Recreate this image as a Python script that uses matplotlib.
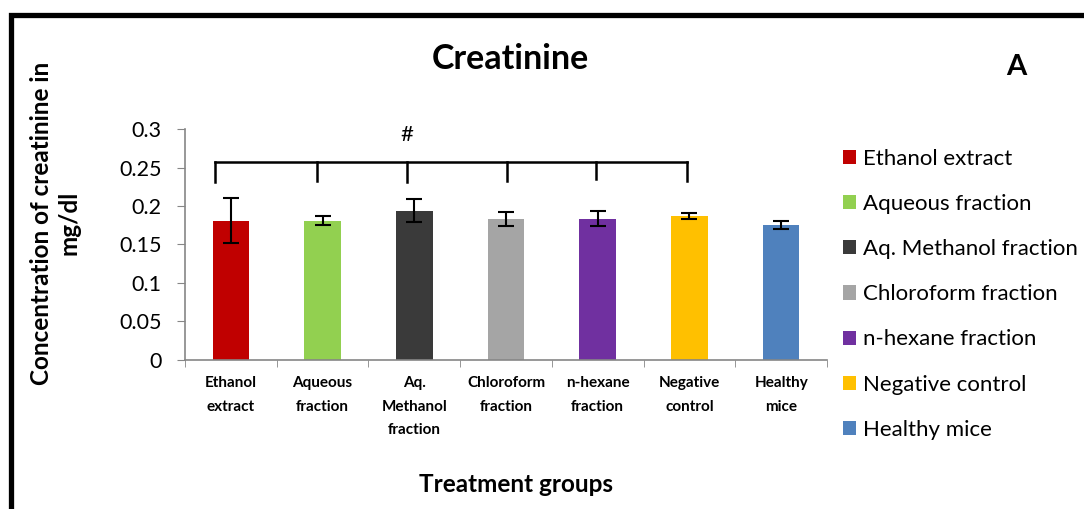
import matplotlib.pyplot as plt
from matplotlib.patches import Rectangle

plt.rcParams['font.family'] = ['Lato', 'DejaVu Sans']

groups = ['Ethanol extract', 'Aqueous fraction', 'Aq. Methanol fraction',
          'Chloroform fraction', 'n-hexane fraction', 'Negative control', 'Healthy mice']
tick_labels = ['Ethanol\nextract', 'Aqueous\nfraction', 'Aq.\nMethanol\nfraction',
               'Chloroform\nfraction', 'n-hexane\nfraction', 'Negative\ncontrol', 'Healthy\nmice']
means = [0.181, 0.181, 0.194, 0.1835, 0.1835, 0.1875, 0.1757]
errors = [0.029, 0.006, 0.015, 0.009, 0.0095, 0.0037, 0.0055]
colors = ['#C00000', '#92D050', '#3A3A3A', '#A5A5A5', '#7030A0', '#FFC000', '#4F81BD']

# bracket over the treated groups
bracket_x = [-0.17, 0.94, 1.92, 3.01, 3.98, 4.97]
bracket_y = 0.258
bracket_drop = [0.232, 0.233, 0.232, 0.233, 0.235, 0.233]

fig = plt.figure(figsize=(10.84, 5.09), dpi=100)
ax = fig.add_axes([185 / 1084, 1 - 359.7 / 509, 642 / 1084, 230.4 / 509])

xs = range(len(groups))
for i in xs:
    ax.bar(i, means[i], width=0.4, color=colors[i], label=groups[i], zorder=2)
ax.errorbar(xs, means, yerr=errors, fmt='none', ecolor='black', elinewidth=1.5,
            capsize=6, capthick=1.5, zorder=3)

# bracket
ax.plot([bracket_x[0], bracket_x[-1]], [bracket_y, bracket_y], color='black', lw=1.8, zorder=3)
for bx, by in zip(bracket_x, bracket_drop):
    ax.plot([bx, bx], [bracket_y, by], color='black', lw=1.8, zorder=3)
ax.text(1.92, 0.293, '#', ha='center', va='center', fontsize=16)

ax.set_xlim(-0.5, len(groups) - 0.5)
ax.set_ylim(0, 0.3)
ax.set_yticks([0, 0.05, 0.1, 0.15, 0.2, 0.25, 0.3])
ax.set_yticklabels(['0', '0.05', '0.1', '0.15', '0.2', '0.25', '0.3'], fontsize=15.5)
ax.set_xticks(list(xs))
ax.set_xticklabels(tick_labels, fontsize=11, fontweight='bold', va='top', linespacing=1.85)
ax.tick_params(axis='x', length=0, pad=12)
ax.set_xticks([i - 0.5 for i in range(len(groups) + 1)], minor=True)
ax.tick_params(axis='x', which='minor', length=5, color='#868686', direction='out')
ax.tick_params(axis='y', length=6, color='#868686', direction='out', pad=11)
for s in ['top', 'right']:
    ax.spines[s].set_visible(False)
for s in ['left', 'bottom']:
    ax.spines[s].set_color('#868686')
    ax.spines[s].set_linewidth(1.2)

fig.text(510 / 1084, 1 - 59 / 509, 'Creatinine', ha='center', va='center',
         fontsize=24.5, fontweight='bold')
fig.text(1016 / 1084, 1 - 67 / 509, 'A', ha='center', va='center',
         fontsize=21, fontweight='bold')
fig.text(516 / 1084, 1 - 485 / 509, 'Treatment groups', ha='center', va='center',
         fontsize=17.5, fontweight='bold')
fig.text(55 / 1084, 1 - 223 / 509, 'Concentration of creatinine in\nmg/dl', ha='center',
         va='center', rotation=90, fontsize=17.5, fontweight='bold', linespacing=1.25)

leg = fig.legend(loc='upper left', bbox_to_anchor=(843 / 1084, 1 - 149 / 509),
                 frameon=False, fontsize=16, handlelength=0.6, handleheight=0.6,
                 handletextpad=0.3, labelspacing=1.13, borderaxespad=0, borderpad=0)

# outer frame
fig.patches.append(Rectangle((10.5 / 1084, -0.1), 1.2, 1 - 15.5 / 509 + 0.1,
                             transform=fig.transFigure, fill=False,
                             edgecolor='black', lw=3.8))

fig.savefig('out.png', dpi=100)
